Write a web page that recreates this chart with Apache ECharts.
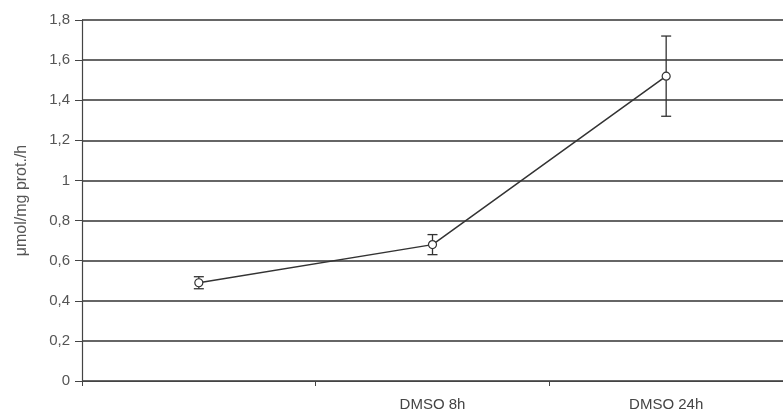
<!DOCTYPE html>
<html>
<head>
<meta charset="utf-8">
<script src="https://cdn.jsdelivr.net/npm/echarts@6/dist/echarts.min.js"></script>
<style>
  html, body { margin: 0; padding: 0; background: #fff; }
  #chart { width: 783px; height: 413px; }
</style>
</head>
<body>
<div id="chart"></div>
<script>
var categories = ['', 'DMSO 8h', 'DMSO 24h']
var means = [0.49, 0.68, 1.52]
var errors = [0.03, 0.05, 0.2]
var yTicks = [0, 0.2, 0.4, 0.6, 0.8, 1, 1.2, 1.4, 1.6, 1.8]

var Chart = echarts.init(document.getElementById('chart'))

var errorData = means.map(function (m, i) {
    return [i, m - errors[i], m + errors[i]]
})

var option = {
    animation: false,
    grid: {
        left: 82,
        right: -7,
        top: 20,
        bottom: 32
    },
    xAxis: {
        type: 'category',
        data: categories,
        boundaryGap: true,
        axisLine: { lineStyle: { color: '#444', width: 1.2 } },
        axisTick: { show: true, length: 5, lineStyle: { color: '#444' } },
        axisLabel: {
            color: '#444',
            fontFamily: 'Liberation Sans',
            fontSize: 15,
            margin: 16
        }
    },
    yAxis: {
        type: 'value',
        min: 0,
        max: 1.8,
        interval: 0.2,
        name: 'μmol/mg prot./h',
        nameLocation: 'middle',
        nameGap: 52,
        nameRotate: 90,
        nameTextStyle: {
            color: '#555',
            fontFamily: 'Liberation Sans',
            fontSize: 16
        },
        axisLine: { show: true, lineStyle: { color: '#444', width: 1.2 } },
        axisTick: { show: true, length: 7, lineStyle: { color: '#444' } },
        axisLabel: {
            color: '#555',
            fontFamily: 'Liberation Sans',
            fontSize: 15,
            margin: 12,
            formatter: function (v) {
                var t = yTicks.find(function (x) { return Math.abs(x - v) < 1e-6 })
                return String(t === undefined ? v : t).replace('.', ',')
            }
        },
        splitLine: { show: true, lineStyle: { color: '#333', width: 1.5 } }
    },
    series: [
        {
            type: 'line',
            data: means,
            symbol: 'circle',
            symbolSize: 8,
            lineStyle: { color: '#333', width: 1.5 },
            itemStyle: { color: '#fff', borderColor: '#333', borderWidth: 1.2 },
            z: 3
        },
        {
            type: 'custom',
            data: errorData,
            z: 2,
            renderItem: function (params, api) {
                var x = api.value(0)
                var lo = api.coord([x, api.value(1)])
                var hi = api.coord([x, api.value(2)])
                var cap = 5
                var style = { stroke: '#333', lineWidth: 1.3 }
                return {
                    type: 'group',
                    children: [
                        { type: 'line', shape: { x1: lo[0], y1: lo[1], x2: hi[0], y2: hi[1] }, style: style },
                        { type: 'line', shape: { x1: lo[0] - cap, y1: lo[1], x2: lo[0] + cap, y2: lo[1] }, style: style },
                        { type: 'line', shape: { x1: hi[0] - cap, y1: hi[1], x2: hi[0] + cap, y2: hi[1] }, style: style }
                    ]
                }
            }
        }
    ]
}
Chart.setOption(option)
</script>
</body>
</html>
